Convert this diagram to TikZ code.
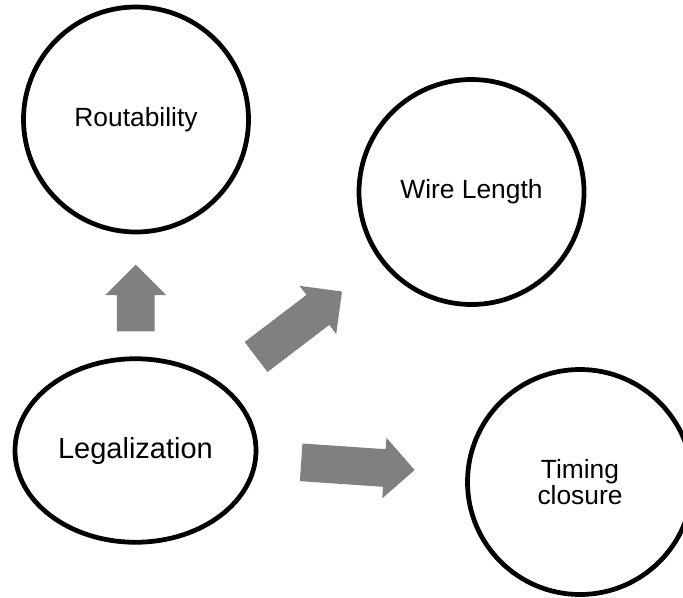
\documentclass[tikz,border=0pt]{standalone}
\usepackage{fontspec}
\setmainfont{Liberation Sans}
\usetikzlibrary{shapes.geometric,shapes.arrows}
\definecolor{arrowgray}{RGB}{128,128,128}
\tikzstyle{bubble}=[circle,draw=black,line width=2.7pt,minimum size=4.5cm,inner sep=0pt,align=center,font=\fontsize{15}{15}\selectfont]
\tikzstyle{blockarrow}=[single arrow,fill=arrowgray,draw=none,minimum width=1.2cm,single arrow head extend=0.23cm,inner xsep=0pt,inner ysep=0.37cm,anchor=tail]
\begin{document}
\begin{tikzpicture}
	\useasboundingbox (0,0) rectangle (13.66,11.94);
	\clip (0,0) rectangle (13.66,11.94);
	% goals
	\node[bubble] (route) at (2.72,9.55) {Routability};
	\node[bubble] (wire) at (9.43,8.10) {Wire Length};
	\node[bubble] (timing) at (11.6,2.30) {Timing\\closure};
	\node[bubble,ellipse,minimum width=4.82cm,minimum height=3.67cm,font=\fontsize{16.5}{16.5}\selectfont] (legal) at (2.71,2.93) {Legalization};
	% block arrows, placed by their tails
	\node[blockarrow,rotate=90,minimum height=1.334cm] (toroute) at (2.716,5.306) {};
	\node[blockarrow,rotate=37.3,minimum height=2.16cm] (towire) at (5.116,4.796) {};
	\node[blockarrow,rotate=-3.9,minimum height=2.275cm] (totiming) at (6.016,2.694) {};
\end{tikzpicture}
\end{document}
